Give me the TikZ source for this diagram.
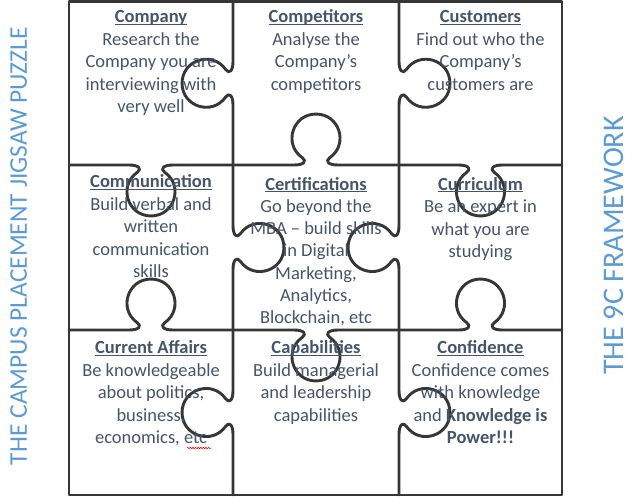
\documentclass[tikz,border=0pt]{standalone}
\usepackage{fontspec}
\setmainfont{Carlito}
\usetikzlibrary{decorations.pathmorphing}
\definecolor{txtc}{HTML}{44546A}
\definecolor{ttlc}{HTML}{5B9BD5}
\definecolor{edgec}{HTML}{363636}
\newcommand\myul[1]{\setbox0\hbox{#1}\rlap{\rule[-2.2pt]{\wd0}{1.1pt}}\box0}
\newcommand\celltitle[1]{\rule{0pt}{13pt}\textbf{\myul{#1}}}
% #1 start point, #2 u vector (along edge), #3 v vector (knob side), #4 half length
\newcommand\jedge[4]{%
 \begin{scope}[shift={#1}, x={#2}, y={#3}]
  \draw[puzzle] (0,0) -- ({#4-22},0)
   .. controls ({#4-12},0) and ({#4-8.9},3.9) .. ({#4-13.77},7.34)
   .. controls ({#4-32.98},20.81) and ({#4-23.46},50.96) .. ({#4},50.96)
   .. controls ({#4+23.46},50.96) and ({#4+32.98},20.81) .. ({#4+13.77},7.34)
   .. controls ({#4+8.9},3.9) and ({#4+12},0) .. ({#4+22},0) -- ({2*#4},0);
 \end{scope}}
\tikzset{
 puzzle/.style={draw=edgec, line width=2.9pt, line join=round, line cap=round},
 cell/.style={anchor=north, align=center, inner sep=0pt, text=txtc,
   font=\fontsize{18.5}{22.5}\selectfont},
 sidetitle/.style={rotate=90, anchor=base, inner sep=0pt, text=ttlc}
}
\begin{document}
\begin{tikzpicture}[x=1pt, y=-1pt]
\useasboundingbox (0,0) rectangle (639,501);
% frame
\draw[puzzle] (69,1.5) rectangle (562,495);
% vertical edges x=233
\jedge{(233,1.5)}{(0pt,-1pt)}{(-1pt,0pt)}{81.75}
\jedge{(233,165)}{(0pt,-1pt)}{(1pt,0pt)}{82.5}
\jedge{(233,330)}{(0pt,-1pt)}{(-1pt,0pt)}{82.5}
% vertical edges x=399
\jedge{(399,1.5)}{(0pt,-1pt)}{(1pt,0pt)}{81.75}
\jedge{(399,165)}{(0pt,-1pt)}{(-1pt,0pt)}{82.5}
\jedge{(399,330)}{(0pt,-1pt)}{(1pt,0pt)}{82.5}
% horizontal edges y=165
\jedge{(69,165)}{(1pt,0pt)}{(0pt,-1pt)}{82}
\jedge{(233,165)}{(1pt,0pt)}{(0pt,1pt)}{83}
\jedge{(399,165)}{(1pt,0pt)}{(0pt,-1pt)}{81.5}
% horizontal edges y=330
\jedge{(69,330)}{(1pt,0pt)}{(0pt,1pt)}{82}
\jedge{(233,330)}{(1pt,0pt)}{(0pt,-1pt)}{83}
\jedge{(399,330)}{(1pt,0pt)}{(0pt,1pt)}{81.5}
% cell texts
\node[cell] (company) at (151,9.5) {\celltitle{Company}\\Research the\\Company you are\\interviewing with\\very well};
\node[cell] (competitors) at (316,9.5) {\celltitle{Competitors}\\Analyse the\\Company’s\\competitors};
\node[cell] (customers) at (480.5,9.5) {\celltitle{Customers}\\Find out who the\\Company’s\\customers are};
\node[cell] (communication) at (151,174.5) {\celltitle{Communication}\\Build verbal and\\written\\communication\\skills};
\node[cell, font=\fontsize{18.5}{22.2}\selectfont] (certifications) at (316,177) {\celltitle{Certifications}\\Go beyond the\\MBA – build skills\\in Digital\\Marketing,\\Analytics,\\Blockchain, etc};
\node[cell] (curriculum) at (480.5,177) {\celltitle{Curriculum}\\Be an expert in\\what you are\\studying};
\node[cell] (affairs) at (151,340.5) {\celltitle{Current Affairs}\\Be knowledgeable\\about politics,\\business,\\economics, etc};
\node[cell] (capabilities) at (316,340.5) {\celltitle{Capabilities}\\Build managerial\\and leadership\\capabilities};
\node[cell] (confidence) at (480.5,340.5) {\celltitle{Confidence}\\Confidence comes\\with knowledge\\and \textbf{Knowledge is}\\\textbf{Power!!!}};
% spell-check squiggle
\draw[red, line width=0.6pt, decorate, decoration={snake, amplitude=0.7pt, segment length=2.6pt}] (187,448) -- (211,448);
% side titles
\node[sidetitle, font=\fontsize{25.5}{30}\selectfont] (lefttitle) at (27,246) {THE CAMPUS PLACEMENT JIGSAW PUZZLE};
\node[sidetitle, font=\fontsize{30}{36}\selectfont] (righttitle) at (623,245.5) {THE 9C FRAMEWORK};
\end{tikzpicture}
\end{document}
